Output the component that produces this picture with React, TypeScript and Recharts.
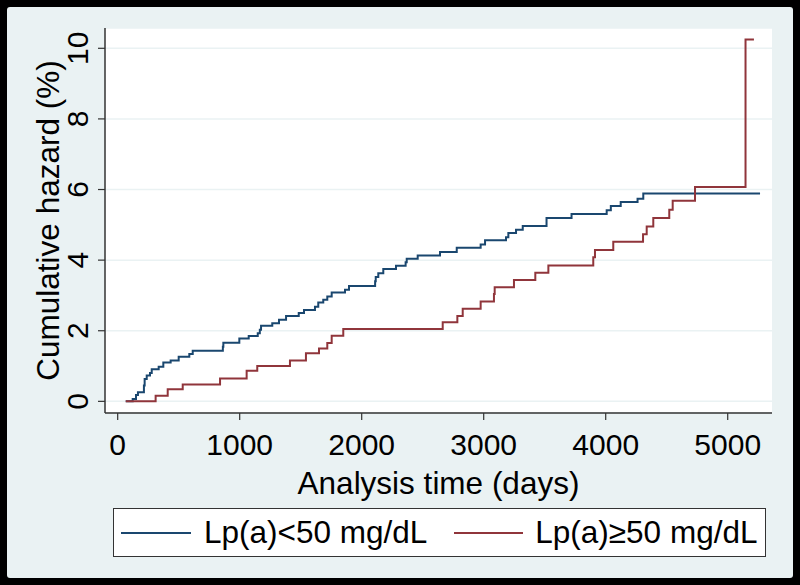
import React from "react";
import { LineChart, Line, XAxis, YAxis, CartesianGrid, Legend } from "recharts";

// Lp(a) < 50 mg/dL
const lowDays = [66,123,150,166,215,221,238,265,279,336,374,434,500,587,615,862,866,997,1074,1148,1165,1175,1267,1322,1380,1484,1527,1617,1644,1685,1718,1754,1863,1896,2110,2115,2136,2177,2281,2360,2369,2459,2642,2779,2975,3011,3183,3202,3265,3320,3515,3720,4008,4042,4123,4261,4308,5265];
const lowHazard = [0,0.07,0.18,0.26,0.45,0.63,0.73,0.8,0.91,0.98,1.1,1.16,1.26,1.34,1.43,1.55,1.66,1.78,1.85,1.93,2.03,2.14,2.21,2.31,2.42,2.5,2.59,2.68,2.8,2.88,2.97,3.08,3.16,3.27,3.4,3.52,3.63,3.75,3.84,3.94,4.04,4.13,4.23,4.35,4.44,4.56,4.65,4.77,4.86,4.97,5.19,5.31,5.41,5.53,5.65,5.74,5.89,5.89];

// Lp(a) >= 50 mg/dL
const highDays = [66,311,410,533,839,1057,1144,1412,1543,1650,1718,1754,1849,2664,2784,2828,2975,3084,3090,3248,3423,3530,3898,3912,4062,4306,4336,4390,4521,4549,4732,5146,5215];
const highHazard = [0,0.16,0.34,0.48,0.65,0.87,1.0,1.16,1.36,1.5,1.65,1.86,2.05,2.24,2.42,2.62,2.83,3.04,3.23,3.44,3.64,3.85,4.08,4.29,4.52,4.73,4.95,5.19,5.43,5.68,6.07,10.25,10.25];

const xTicks = [0, 1000, 2000, 3000, 4000, 5000];
const yTicks = [0, 2, 4, 6, 8, 10];
const seriesNames = ["Lp(a)<50 mg/dL", "Lp(a)\u226550 mg/dL"];
const xTitle = "Analysis time (days)";
const yTitle = "Cumulative hazard (%)";

const lowData = lowDays.map((d, i) => ({ day: d, hazard: lowHazard[i] }));
const highData = highDays.map((d, i) => ({ day: d, hazard: highHazard[i] }));

const BLUE = "#1a476f";
const RED = "#90353b";
const BG = "#eaf2f3";
const FONT = "'Liberation Sans', Arial, sans-serif";

const YTick = (props: any) => {
  const { x, y, payload } = props;
  return (
    <text
      x={x}
      y={y}
      transform={`rotate(-90 ${x} ${y})`}
      textAnchor="middle"
      fontSize={30}
      fontFamily={FONT}
      fill="#000"
    >
      {payload.value}
    </text>
  );
};

const XTitle = (props: any) => {
  const vb = props.viewBox || { x: 105, y: 413, width: 667, height: 100 };
  return (
    <text
      x={vb.x + vb.width / 2}
      y={vb.y + 81}
      textAnchor="middle"
      fontSize={31.5}
      fontFamily={FONT}
      fill="#000"
    >
      {xTitle}
    </text>
  );
};

const YTitle = (props: any) => {
  const vb = props.viewBox || { x: 45, y: 28, width: 60, height: 385 };
  const cx = vb.x + 14;
  const cy = vb.y + vb.height / 2;
  return (
    <text
      x={cx}
      y={cy}
      transform={`rotate(-90 ${cx} ${cy})`}
      textAnchor="middle"
      fontSize={31.5}
      fontFamily={FONT}
      fill="#000"
    >
      {yTitle}
    </text>
  );
};

const LegendBox = () => (
  <div
    style={{
      boxSizing: "border-box",
      width: 653,
      height: 49,
      border: "1.5px solid #333",
      background: "#fff",
      display: "flex",
      alignItems: "center",
      paddingLeft: 7,
      fontFamily: FONT,
      fontSize: 31.5,
      color: "#000",
      whiteSpace: "nowrap",
    }}
  >
    <span style={{ display: "inline-block", width: 70, height: 2, background: BLUE }} />
    <span style={{ marginLeft: 13 }}>{seriesNames[0]}</span>
    <span style={{ display: "inline-block", width: 69, height: 2, background: RED, marginLeft: 27 }} />
    <span style={{ marginLeft: 12 }}>{seriesNames[1]}</span>
  </div>
);

export default function App() {
  return (
    <div style={{ position: "absolute", left: 0, top: 0, width: 800, height: 585, background: "#000" }}>
      <div
        style={{
          position: "absolute",
          left: 7,
          top: 7,
          width: 786,
          height: 571,
          background: BG,
          borderRadius: 3,
        }}
      />
      <div style={{ position: "absolute", left: 0, top: 0 }}>
        <LineChart
          width={800}
          height={585}
          margin={{ top: 28, right: 28, left: 45, bottom: 72 }}
        >
          <CartesianGrid
            horizontal={true}
            vertical={false}
            fill="#fff"
            stroke={BG}
            strokeWidth={1.5}
          />
          <XAxis
            dataKey="day"
            type="number"
            domain={[-104, 5363]}
            ticks={xTicks}
            allowDataOverflow
            height={100}
            tickSize={7}
            tickMargin={14}
            axisLine={{ stroke: "#333", strokeWidth: 1.5 }}
            tickLine={{ stroke: "#333", strokeWidth: 1.2 }}
            tick={{ fontSize: 30, fill: "#000", fontFamily: FONT }}
            label={<XTitle />}
          />
          <YAxis
            type="number"
            domain={[-0.33, 10.575]}
            ticks={yTicks}
            allowDataOverflow
            width={60}
            tickSize={7}
            tickMargin={10}
            axisLine={{ stroke: "#333", strokeWidth: 1.5 }}
            tickLine={{ stroke: "#333", strokeWidth: 1.2 }}
            tick={<YTick />}
            label={<YTitle />}
          />
          <Line
            data={lowData}
            dataKey="hazard"
            name={seriesNames[0]}
            type="stepAfter"
            stroke={BLUE}
            strokeWidth={2}
            dot={false}
            activeDot={false}
            isAnimationActive={false}
          />
          <Line
            data={highData}
            dataKey="hazard"
            name={seriesNames[1]}
            type="stepAfter"
            stroke={RED}
            strokeWidth={2}
            dot={false}
            activeDot={false}
            isAnimationActive={false}
          />
          <Legend
            layout="vertical"
            align="center"
            verticalAlign="middle"
            content={<LegendBox />}
            wrapperStyle={{ position: "absolute", left: 113, top: 508, width: 653, height: 49 }}
          />
        </LineChart>
      </div>
    </div>
  );
}
